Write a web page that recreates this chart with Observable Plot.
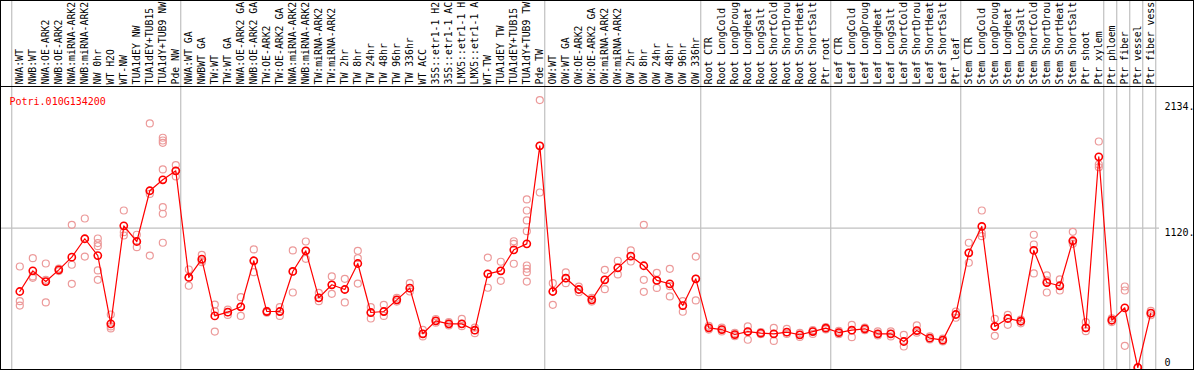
<!DOCTYPE html>
<html>
<head>
<meta charset="utf-8">
<script src="https://cdn.jsdelivr.net/npm/d3@7"></script>
<script src="https://cdn.jsdelivr.net/npm/@observablehq/plot@0.6"></script>
<style>
  html, body { margin: 0; padding: 0; background: #fff; }
  #chart svg { display: block; outline: 1px solid #000; outline-offset: -1px; }
</style>
</head>
<body>
<div id="chart"></div>
<script>
const gene = "Potri.010G134200";

// sample labels as shown (the chart shows at most 14 characters)
const samples = [
  "NWA:WT","NWB:WT","NWA:OE-ARK2","NWB:OE-ARK2","NWA:miRNA-ARK2","NWB:miRNA-ARK2","NW 0hr","WT H2O","WT-NW",
  "TUA1dEY NW","TUA1dEY+TUB15","TUA1dY+TUB9 NW","Pde NW",
  "NWA:WT GA","NWBWT GA","TW:WT","TW:WT GA","NWA:OE-ARK2 GA","NWB:OE-ARK2 GA","TW:OE-ARK2","TW:OE-ARK2 GA",
  "NWA:miRNA-ARK2","NWB:miRNA-ARK2","TW:miRNA-ARK2","TW:miRNA-ARK2","TW 2hr","TW 8hr","TW 24hr","TW 48hr",
  "TW 96hr","TW 336hr","WT ACC","35S::etr1-1 H2","35S::etr1-1 AC","LMX5::etr1-1 H","LMX5::etr1-1 A",
  "WT-TW","TUA1dEY TW","TUA1dEY+TUB15","TUA1dY+TUB9 TW","Pde TW",
  "OW:WT","OW:WT GA","OW:OE-ARK2","OW:OE-ARK2 GA","OW:miRNA-ARK2","OW:miRNA-ARK2","OW 2hr","OW 8hr",
  "OW 24hr","OW 48hr","OW 96hr","OW 336hr",
  "Root CTR","Root LongCold","Root LongDroug","Root LongHeat","Root LongSalt","Root ShortCold",
  "Root ShortDrou","Root ShortHeat","Root ShortSalt","Ptr root",
  "Leaf CTR","Leaf LongCold","Leaf LongDroug","Leaf LongHeat","Leaf LongSalt","Leaf ShortCold",
  "Leaf ShortDrou","Leaf ShortHeat","Leaf ShortSalt","Ptr leaf",
  "Stem CTR","Stem LongCold","Stem LongDroug","Stem LongHeat","Stem LongSalt","Stem ShortCold",
  "Stem ShortDrou","Stem ShortHeat","Stem ShortSalt","Ptr shoot","Ptr xylem",
  "Ptr phloem","Ptr fiber","Ptr vessel","Ptr fiber vess"
];

// first sample index (1-based) of each group, plus the end
const groupStarts = [1, 14, 42, 54, 64, 74, 85, 86, 87, 88, 89];

const means = [
  611, 777, 691, 785, 887, 1035, 900, 351, 1139,
  1013, 1421, 1509, 1581,
  724, 871, 415, 445, 488, 858, 450, 450,
  772, 938, 560, 665, 627, 836, 442, 450,
  544, 638, 271, 375, 351, 351, 300,
  753, 777, 946, 994, 1782,
  611, 718, 627, 544, 705, 801, 895, 818,
  700, 673, 498, 713,
  319, 305, 265, 289, 276, 271, 284, 263, 289, 316,
  281, 300, 311, 271, 271, 209, 297, 236, 220, 426,
  922, 1134, 330, 394, 372, 941, 683, 657, 1019, 319, 1694,
  380, 480, 0, 437
];

const replicates = [
  [812, 533, 498], [879, 732, 721], [836, 705, 523], [775, 785, 795], [1147, 826, 673], [1198, 1035, 892],
  [1037, 1000, 975, 780, 705], [426, 330, 314], [1262, 1088, 1061],
  [1067, 1013, 967], [1962, 1421, 1395, 900], [1847, 1825, 1806, 1592, 1289, 1236, 1003], [1627, 1581, 1536],
  [788, 724, 657], [906, 860, 847], [506, 453, 289], [466, 445, 423], [565, 488, 415], [949, 858, 766],
  [455, 450, 440], [485, 450, 415],
  [941, 772, 603], [1013, 938, 874], [600, 560, 533], [732, 665, 592], [713, 627, 523], [938, 879, 675],
  [485, 442, 394], [504, 450, 415],
  [560, 544, 530], [678, 638, 611], [303, 271, 250], [390, 375, 360], [365, 351, 338], [391, 351, 332],
  [300, 276, 320],
  [884, 753, 641], [850, 777, 697], [1015, 994, 834], [1351, 1262, 1182, 1096, 820, 794, 766, 691],
  [2150, 1782, 1407],
  [678, 611, 504], [764, 718, 678], [650, 627, 605], [560, 544, 530], [785, 705, 630], [858, 801, 748],
  [941, 895, 852], [1147, 705, 608],
  [761, 700, 640], [793, 654, 571], [533, 498, 448], [892, 713, 539],
  [335, 319, 305], [320, 305, 290], [278, 265, 252], [330, 289, 223], [285, 276, 268], [319, 271, 214],
  [310, 284, 270], [278, 263, 245], [300, 289, 270], [325, 316, 306],
  [295, 281, 268], [343, 300, 244], [320, 311, 300], [290, 271, 258], [290, 271, 250], [263, 209, 169],
  [338, 297, 280], [250, 236, 225], [232, 220, 210], [450, 426, 400],
  [1003, 922, 842], [1262, 1080, 1056], [391, 330, 255], [423, 394, 343], [385, 372, 355], [1067, 989, 756],
  [740, 683, 603, 700], [708, 657, 619], [1091, 994, 1010], [364, 319, 292], [1817, 1632, 1610],
  [395, 380, 365], [651, 619, 174], [0, 0, 0], [455, 437, 420]
];

const yTicks = [2134, 1120];
const yZeroTick = [0];

const meanData = means.map((v, i) => ({i: i + 1, v}));
const repData = replicates.flatMap((reps, i) => reps.map(v => ({i: i + 1, v})));
const labelData = samples.map((s, i) => ({i: i + 1, s}));
const bounds = groupStarts.map(g => g - 0.62);

const FONT = "DejaVu Sans Mono, monospace";
const yMax = 2259;

const chart = Plot.plot({
  width: 1194,
  height: 370,
  marginTop: 86,
  marginBottom: 0,
  marginLeft: 0,
  marginRight: 35,
  style: {fontFamily: FONT, fontSize: "10px", background: "white"},
  x: {domain: [1, 88], range: [19.3, 1150.3], axis: null},
  y: {domain: [0, yMax], range: [367, 86], axis: null},
  marks: [
    Plot.ruleY([1120], {stroke: "#c0c0c0", strokeWidth: 1.2}),
    Plot.ruleX(bounds, {stroke: "#c0c0c0", strokeWidth: 1.2, insetTop: -86}),
    Plot.ruleY([yMax], {stroke: "#000", strokeWidth: 1.2, insetRight: -35}),
    Plot.text(labelData, {
      x: "i", text: "s", frameAnchor: "top", dy: -2, rotate: -90,
      textAnchor: "start", lineAnchor: "middle", fill: "#000", fontSize: 9.8
    }),
    Plot.text([gene], {frameAnchor: "top-left", dx: 9, dy: 11, text: d => d, fill: "red", textAnchor: "start", fontSize: 10}),
    Plot.axisY({anchor: "right", ticks: yTicks, label: null, tickSize: 0, tickPadding: 5, dy: 5, tickFormat: d => d + ".", fontSize: 10, fill: "#000"}),
    Plot.axisY({anchor: "right", ticks: yZeroTick, label: null, tickSize: 0, tickPadding: 5, dy: -5, tickFormat: d => String(d), fontSize: 10, fill: "#000"}),
    Plot.dot(repData, {x: "i", y: "v", r: 3.5, stroke: "#ec9a9a", strokeWidth: 1.2, fill: "none"}),
    Plot.line(meanData, {x: "i", y: "v", stroke: "red", strokeWidth: 1.2}),
    Plot.dot(meanData, {x: "i", y: "v", r: 3.6, stroke: "red", strokeWidth: 1.6, fill: "none"})
  ]
});
document.getElementById("chart").appendChild(chart);
</script>
</body>
</html>
